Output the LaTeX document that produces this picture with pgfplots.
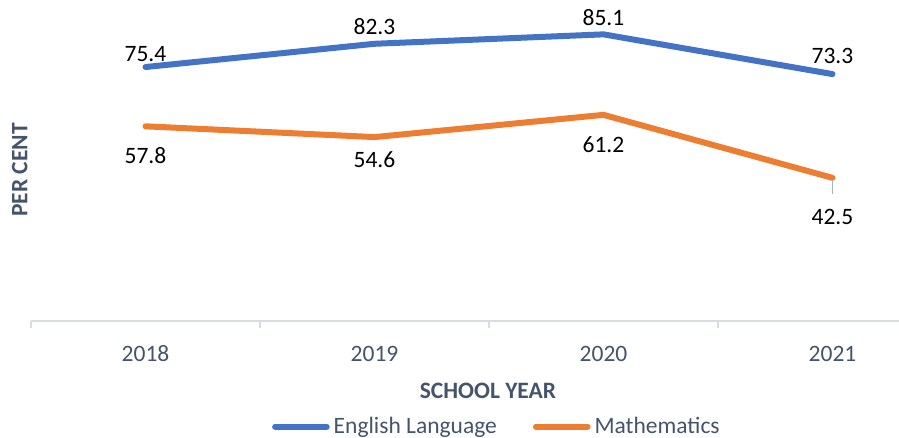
\documentclass[border=0pt]{standalone}
\usepackage{fontspec}
\setmainfont{Carlito}
\usepackage{pgfplots}
\pgfplotsset{compat=1.18}
\usepackage{pgfplotstable}
\definecolor{eng}{HTML}{4472C4}
\definecolor{mat}{HTML}{ED7D31}
\definecolor{slate}{HTML}{44546A}
\definecolor{axgray}{HTML}{D9DDE3}
\definecolor{leader}{HTML}{A9B2BF}

\pgfplotstableread{
x y dy
0 75.4 6.5
1 82.3 8.5
2 85.1 8.5
3 73.3 9.25
}\english
\pgfplotstableread{
x y dy
0 57.8 -14.8
1 54.6 -11.4
2 61.2 -14.9
3 42.5 -19.4
}\maths

\begin{document}
\fontsize{11.75}{14}\selectfont
\begin{tikzpicture}
\begin{axis}[
  name=ax,
  scale only axis, width=458pt, height=160.5pt,
  xmin=-0.5, xmax=3.5, ymin=0, ymax=95.3,
  axis x line*=bottom, axis y line=none,
  xtick={0,1,2,3}, xticklabels={2018,2019,2020,2021},
  minor xtick={-0.5,0.5,1.5,2.5},
  major tick length=0pt, minor tick length=3.5pt, tick align=outside,
  x axis line style={draw=axgray, line width=1pt},
  every minor tick/.style={draw=axgray, line width=1pt},
  xticklabel style={font=\fontsize{11.75}{14}\selectfont, text=slate, anchor=base, yshift=-20.5pt},
  clip=false,
  legend columns=2,
  legend cell align=left,
  legend style={draw=none, fill=none, inner sep=0pt, at={(axis description cs:0.2628,-0.329)}, anchor=west,
    font=\fontsize{11.75}{14}\selectfont, text=slate,
    /tikz/every even column/.append style={column sep=16pt}},
  legend image code/.code={\draw[#1, line width=3pt, line cap=round] (1.5pt,0pt) -- (27.3pt,0pt);},
]
\addplot[eng, line width=3pt, line cap=round, line join=round, mark=none,
  nodes near coords, point meta=explicit symbolic,
  visualization depends on={\thisrow{dy} \as \dy},
  every node near coord/.append style={anchor=center, yshift=\dy, text=black, font=\fontsize{11.75}{14}\selectfont}]
  table[x=x, y=y, meta=y]{\english};
\addlegendentry{English Language}
\addplot[mat, line width=3pt, line cap=round, line join=round, mark=none,
  nodes near coords, point meta=explicit symbolic,
  visualization depends on={\thisrow{dy} \as \dy},
  every node near coord/.append style={anchor=center, yshift=\dy, text=black, font=\fontsize{11.75}{14}\selectfont}]
  table[x=x, y=y, meta=y]{\maths};
\addlegendentry{Mathematics}
\draw[draw=leader, line width=0.75pt] (axis cs:3,42.0) -- (axis cs:3,37.6);
\node[rotate=90, anchor=base, font=\bfseries, text=slate] at (axis description cs:-0.0039,0.47) {PER CENT};
\node[anchor=base, font=\bfseries, text=slate, yshift=-39pt] at (axis description cs:0.4989,0) {SCHOOL YEAR};
\end{axis}
\pgfresetboundingbox
\path[use as bounding box] ([shift={(-15.5pt,-58.5pt)}]ax.south west) rectangle ([shift={(-24pt,0pt)}]ax.north east);
\end{tikzpicture}
\end{document}
